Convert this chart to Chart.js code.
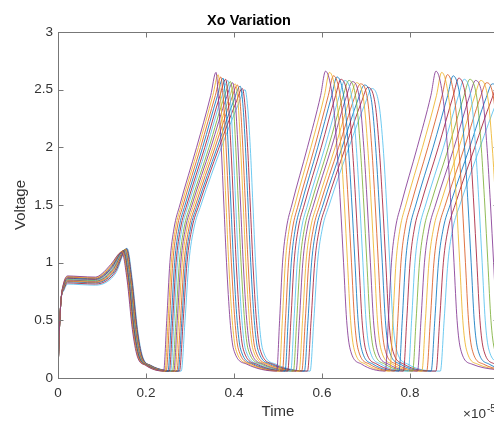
<!DOCTYPE html>
<html>
<head>
<meta charset="utf-8">
<title>Xo Variation</title>
<script src="https://cdn.jsdelivr.net/npm/chart.js@4.4.1/dist/chart.umd.min.js"></script>
<style>
  html, body { margin: 0; padding: 0; overflow: hidden; background: #fff; }
</style>
</head>
<body>
<canvas id="myChart" width="556" height="421"></canvas>
<script>
const FONT = "'Liberation Sans', Arial, Helvetica, sans-serif";

const xTicks = [0, 0.2, 0.4, 0.6, 0.8, 1];
const xTickLabels = ['0', '0.2', '0.4', '0.6', '0.8', '1'];
const yTicks = [0, 0.5, 1, 1.5, 2, 2.5, 3];
const yTickLabels = ['0', '0.5', '1', '1.5', '2', '2.5', '3'];

// one entry per Xo value, earliest switching curve first
const lineColors = ['#7E2F8E', '#EDB120', '#D95319', '#0072BD', '#A2142F', '#4DBEEE', '#77AC30',
                    '#7E2F8E', '#EDB120', '#D95319', '#0072BD', '#A2142F', '#4DBEEE'];
const plateau   = [0.885, 0.88, 0.875, 0.87, 0.865, 0.86, 0.855, 0.85, 0.845, 0.84, 0.835, 0.825, 0.815];
const bumpTime  = [0.145, 0.146, 0.147, 0.148, 0.149, 0.150, 0.151, 0.152, 0.153, 0.154, 0.155, 0.156, 0.157];
const bumpVolt  = [1.09, 1.095, 1.10, 1.10, 1.105, 1.105, 1.11, 1.11, 1.115, 1.115, 1.12, 1.12, 1.125];

const riseStart1 = [0.240, 0.243, 0.246, 0.250, 0.253, 0.256, 0.260, 0.263, 0.266, 0.270, 0.273, 0.276, 0.280];
const peakTime1  = [0.359, 0.364, 0.370, 0.375, 0.381, 0.386, 0.392, 0.397, 0.403, 0.408, 0.414, 0.419, 0.425];
const peakVolt1  = [2.65, 2.63, 2.61, 2.60, 2.59, 2.58, 2.57, 2.56, 2.55, 2.54, 2.53, 2.51, 2.50];

const riseStart2 = [0.497, 0.503, 0.510, 0.516, 0.522, 0.529, 0.535, 0.541, 0.548, 0.554, 0.560, 0.567, 0.573];
const peakTime2  = [0.608, 0.617, 0.626, 0.634, 0.643, 0.652, 0.661, 0.669, 0.678, 0.687, 0.696, 0.704, 0.713];
const peakVolt2  = [2.66, 2.65, 2.62, 2.61, 2.59, 2.58, 2.58, 2.57, 2.56, 2.55, 2.54, 2.52, 2.51];

const riseStart3 = [0.744, 0.754, 0.765, 0.775, 0.785, 0.796, 0.806, 0.817, 0.827, 0.838, 0.848, 0.859, 0.869];
const peakTime3  = [0.859, 0.872, 0.885, 0.898, 0.911, 0.923, 0.936, 0.949, 0.961, 0.974, 0.987, 0.999, 1.012];
const peakVolt3  = [2.66, 2.65, 2.63, 2.62, 2.60, 2.59, 2.59, 2.58, 2.58, 2.56, 2.55, 2.53, 2.52];

// shape of a charging edge: fraction of the rise time -> voltage
const riseFrac = [0, 0.06, 0.12, 0.2, 0.31, 0.63, 0.9];
const riseVolt = [0.06, 0.5, 1.0, 1.3, 1.5, 2.0, 2.45];
// discharge after a peak: time after the peak -> voltage (first cycle is quicker)
const fallVolt       = [2.4, 2.0, 1.5, 1.0, 0.5, 0.25, 0.12];
const fallDelayFirst = [0.006, 0.012, 0.018, 0.024, 0.032, 0.040, 0.070];
const fallDelayLater = [0.017, 0.026, 0.034, 0.041, 0.048, 0.056, 0.082];

function buildCurve(i) {
  const p = plateau[i], bt = bumpTime[i];
  const pts = [
    {x: 0, y: 0.03}, {x: 0.003, y: 0.4}, {x: 0.007, y: 0.68}, {x: 0.013, y: p - 0.06},
    {x: 0.022, y: p}, {x: 0.05, y: p - 0.005}, {x: 0.085, y: p - 0.01},
    {x: bt - 0.045, y: p + 0.02}, {x: bt - 0.025, y: p + 0.1}, {x: bt, y: bumpVolt[i]},
    {x: bt + 0.012, y: 0.85}, {x: bt + 0.024, y: 0.42}, {x: bt + 0.035, y: 0.19}, {x: bt + 0.054, y: 0.11}
  ];
  const cycles = [
    [riseStart1[i], peakTime1[i], peakVolt1[i], fallDelayFirst],
    [riseStart2[i], peakTime2[i], peakVolt2[i], fallDelayLater],
    [riseStart3[i], peakTime3[i], peakVolt3[i], fallDelayLater]
  ];
  for (const [rs, tp, vp, fallDelay] of cycles) {
    const d = tp - rs;
    riseFrac.forEach((f, k) => pts.push({x: rs + f * d, y: Math.min(riseVolt[k], vp - 0.12)}));
    pts.push({x: tp, y: vp});
    fallDelay.forEach((dt, k) => pts.push({x: tp + dt, y: Math.min(fallVolt[k], vp - 0.15)}));
  }
  if (pts[pts.length - 1].x < 1.0) pts.push({x: 1.05, y: 0.06});
  return pts;
}

const datasets = lineColors.map((c, i) => ({
  label: 'Xo ' + (i + 1),
  data: buildCurve(i),
  borderColor: c + 'D0',
  borderWidth: 1,
  pointRadius: 0,
  cubicInterpolationMode: 'monotone',
  fill: false
}));

// MATLAB-style box with inward ticks, plus the x exponent
const axesBox = {
  id: 'axesBox',
  afterDatasetsDraw(chart) {
    const {ctx, chartArea: a, scales: {x, y}} = chart;
    const L = Math.round(a.left) + 0.5, R = Math.round(a.right) + 0.5;
    const T = Math.round(a.top) + 0.5, B = Math.round(a.bottom) + 0.5;
    ctx.save();
    ctx.strokeStyle = '#777';
    ctx.lineWidth = 1;
    ctx.strokeRect(L, T, R - L, B - T);
    ctx.beginPath();
    for (const t of x.ticks) {
      const px = Math.round(x.getPixelForValue(t.value)) + 0.5;
      ctx.moveTo(px, B); ctx.lineTo(px, B - 5);
      ctx.moveTo(px, T); ctx.lineTo(px, T + 5);
    }
    for (const t of y.ticks) {
      const py = Math.round(y.getPixelForValue(t.value)) + 0.5;
      ctx.moveTo(L, py); ctx.lineTo(L + 5, py);
      ctx.moveTo(R, py); ctx.lineTo(R - 5, py);
    }
    ctx.stroke();

    ctx.fillStyle = '#333';
    ctx.textBaseline = 'alphabetic';
    ctx.textAlign = 'left';
    const ex = a.right - 35, ey = a.bottom + 40;
    ctx.font = '13.5px ' + FONT;
    ctx.fillText('\u00d710', ex, ey);
    const w = ctx.measureText('\u00d710').width;
    ctx.font = '10px ' + FONT;
    ctx.fillText('-5', ex + w + 1, ey - 6);
    ctx.restore();
  }
};

const tickFont = {family: FONT, size: 13.5};
const titleFont = {family: FONT, size: 15};

new Chart(document.getElementById('myChart'), {
  type: 'line',
  data: {datasets: datasets},
  plugins: [axesBox],
  options: {
    responsive: false,
    animation: false,
    layout: {padding: {left: 0, right: 58, top: 0, bottom: 0}},
    plugins: {
      legend: {display: false},
      tooltip: {enabled: false},
      title: {
        display: true,
        text: 'Xo Variation',
        color: '#000',
        font: {family: FONT, size: 14.5, weight: 'bold'},
        padding: {top: 12, bottom: 2.6}
      }
    },
    scales: {
      x: {
        type: 'linear',
        min: 0,
        max: 1,
        grid: {display: false, drawTicks: false},
        border: {display: false},
        afterFit: s => { s.height = 43; },
        afterBuildTicks: s => { s.ticks = xTicks.map(v => ({value: v})); },
        ticks: {
          padding: 7,
          maxRotation: 0,
          autoSkip: false,
          color: '#333',
          font: tickFont,
          callback: v => xTickLabels[xTicks.indexOf(v)]
        },
        title: {display: true, text: 'Time', color: '#333', font: titleFont, padding: {top: 0, bottom: 0}}
      },
      y: {
        min: 0,
        max: 3,
        grid: {display: false, drawTicks: false},
        border: {display: false},
        afterFit: s => { s.width = 58; },
        afterBuildTicks: s => { s.ticks = yTicks.map(v => ({value: v})); },
        ticks: {
          padding: 5,
          color: '#333',
          font: tickFont,
          callback: v => yTickLabels[yTicks.indexOf(v)]
        },
        title: {display: true, text: 'Voltage', color: '#333', font: titleFont, padding: {top: 12, bottom: 0}}
      }
    }
  }
});
</script>
</body>
</html>
